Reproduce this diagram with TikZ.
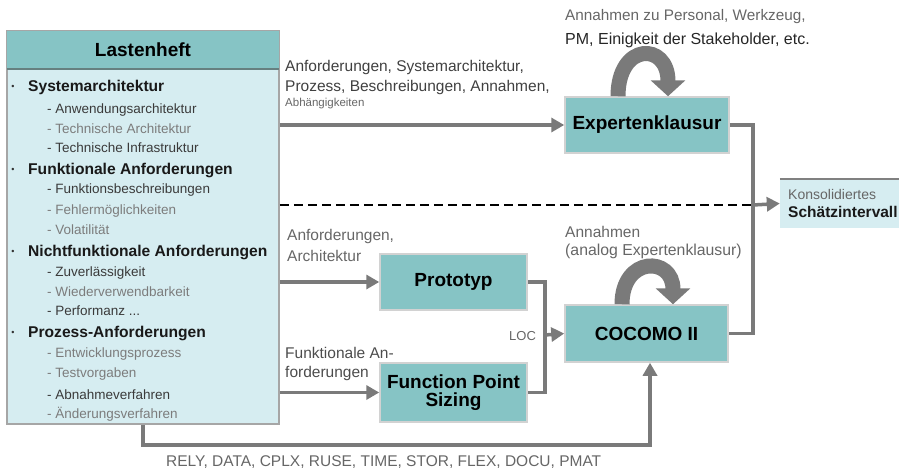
\documentclass[tikz,border=0pt]{standalone}
\usepackage{fontspec}
\setmainfont{Liberation Sans}
\usetikzlibrary{arrows.meta}
\definecolor{tealbox}{HTML}{86C4C5}
\definecolor{panel}{HTML}{D6EDF1}
\definecolor{lineg}{HTML}{7A7A7A}
\definecolor{txtg}{HTML}{666666}
\definecolor{subdark}{HTML}{3A3A3A}
\definecolor{sublight}{HTML}{7C7C7C}
\newcommand\myfs[1]{\fontsize{#1}{#1}\selectfont}
\begin{document}
\begin{tikzpicture}[x=1pt,y=-1pt,
  box/.style={draw=gray!35, line width=1.5pt, fill=tealbox, inner sep=0pt, font=\bfseries\myfs{19}, align=center},
  conn/.style={draw=lineg, line width=3.5pt},
  arr/.style={conn, -{Triangle[length=13pt,width=14pt]}},
  bigloop/.style={draw=lineg, line width=15pt, -{Triangle[length=16pt,width=34pt]}},
  lbl/.style={anchor=west, inner sep=0pt, text=txtg, font=\myfs{15.5}},
  mainitem/.style={anchor=west, inner sep=0pt, text=black!90, font=\bfseries\myfs{15.6}},
  subd/.style={anchor=west, inner sep=0pt, text=subdark, font=\myfs{13.5}},
  subl/.style={anchor=west, inner sep=0pt, text=sublight, font=\myfs{13.5}},
  bul/.style={anchor=center, inner sep=0pt, text=black!80, font=\myfs{9}}
]
\useasboundingbox (0,0) rectangle (899,471);

% Lastenheft
\node[draw=gray!70, line width=1.5pt, fill=panel, minimum width=272pt, minimum height=393pt, inner sep=0pt] (lh) at (143,227.5) {};
\node[fill=tealbox, minimum width=272pt, minimum height=38pt, inner sep=0pt, font=\bfseries\myfs{19}] (lhh) at (143,50) {Lastenheft};
\draw[draw=gray!80!teal, line width=2.5pt] (lhh.south west) -- (lhh.south east);

\node[bul] (b1) at (13,87) {\textbullet};
\node[mainitem] (m1) at (28,87) {Systemarchitektur};
\node[subd] (s11) at (47,110) {- Anwendungsarchitektur};
\node[subl] (s12) at (47,129) {- Technische Architektur};
\node[subd] (s13) at (47,148) {- Technische Infrastruktur};
\node[bul] (b2) at (13,170) {\textbullet};
\node[mainitem] (m2) at (28,170) {Funktionale Anforderungen};
\node[subd] (s21) at (47,190) {- Funktionsbeschreibungen};
\node[subl] (s22) at (47,211) {- Fehlermöglichkeiten};
\node[subl] (s23) at (47,230) {- Volatilität};
\node[bul] (b3) at (13,252) {\textbullet};
\node[mainitem] (m3) at (28,252) {Nichtfunktionale Anforderungen};
\node[subd] (s31) at (47,273) {- Zuverlässigkeit};
\node[subl] (s32) at (47,292) {- Wiederverwendbarkeit};
\node[subd] (s33) at (47,311) {- Performanz ...};
\node[bul] (b4) at (13,333) {\textbullet};
\node[mainitem] (m4) at (28,333) {Prozess-Anforderungen};
\node[subl] (s41) at (47,354) {- Entwicklungsprozess};
\node[subl] (s42) at (47,374) {- Testvorgaben};
\node[subd] (s43) at (47,395) {- Abnahmeverfahren};
\node[subl] (s44) at (47,414) {- Änderungsverfahren};

% boxes
\node[box, minimum width=164pt, minimum height=56pt] (ek) at (647,125) {Expertenklausur};
\node[box, minimum width=147pt, minimum height=56pt] (pt) at (453.5,282) {Prototyp};
\node[box, minimum width=147pt, minimum height=59pt] (fp) at (453.5,392.5) {Function Point\\[-1pt]Sizing};
\node[box, minimum width=163pt, minimum height=57pt] (cc) at (646.5,333.5) {COCOMO II};
\node[fill=panel, minimum width=124pt, minimum height=49pt, inner sep=0pt] (rb) at (842,203.5) {};
\draw[gray, line width=2pt] (rb.north west) -- (rb.north east);
\node[anchor=west, inner sep=0pt, text=txtg, font=\myfs{14}] (rb1) at (788,194) {Konsolidiertes};
\node[anchor=west, inner sep=0pt, text=black!90, font=\bfseries\myfs{15.5}] (rb2) at (788,212) {Schätzintervall};

% labels
\node[lbl, text=black!75] (l1) at (285,67) {Anforderungen, Systemarchitektur,};
\node[lbl, text=black!75] (l2) at (285,87) {Prozess, Beschreibungen, Annahmen,};
\node[lbl, font=\myfs{11.5}] (l3) at (285,104) {Abhängigkeiten};
\node[lbl, font=\myfs{15.3}] (t1) at (565,17) {Annahmen zu Personal, Werkzeug,};
\node[lbl, text=black!85, font=\myfs{16}] (t2) at (565,40) {PM, Einigkeit der Stakeholder, etc.};
\node[lbl] (l4) at (287,236) {Anforderungen,};
\node[lbl] (l5) at (287,256) {Architektur};
\node[lbl, text=black!70] (l6) at (285,353) {Funktionale An-};
\node[lbl, text=black!70] (l7) at (285,373) {forderungen};
\node[lbl] (l8) at (565,232) {Annahmen};
\node[lbl, font=\myfs{15.8}] (l9) at (565,251) {(analog Expertenklausur)};
\node[lbl, font=\myfs{13}] (loc) at (509,336) {LOC};
\node[lbl, font=\myfs{15.5}] (bt) at (166,462) {RELY, DATA, CPLX, RUSE, TIME, STOR, FLEX, DOCU, PMAT};

% coordinates
\coordinate (j1) at (753,205);
\coordinate (j2) at (545,335);

% connectors
\draw[arr] (lh.east |- ek.west) -- (ek.west);
\draw[black, line width=2pt, dash pattern=on 9pt off 5pt] (lh.east |- j1) -- ([xshift=-2pt]j1);
\draw[arr] (lh.east |- pt.west) -- (pt.west);
\draw[arr] (lh.east |- fp.west) -- (fp.west);
\draw[conn] (pt.east) -| (j2) |- (fp.east);
\draw[arr] (j2) -- (cc.west);
\draw[conn] (ek.east) -| (j1) |- (cc.east);
\draw[arr] (j1) -- (rb.west);
\draw[arr] (lh.south) |- (650,445) -- (cc.south -| 650,0);

% loops
\draw[bigloop] ([xshift=-29pt]ek.north) .. controls (618,42) and (668,42) .. ([xshift=21pt]ek.north);
\draw[bigloop] ([xshift=-24.5pt]cc.north) .. controls (622,256) and (673,256) .. ([xshift=26.5pt]cc.north);
\end{tikzpicture}
\end{document}
